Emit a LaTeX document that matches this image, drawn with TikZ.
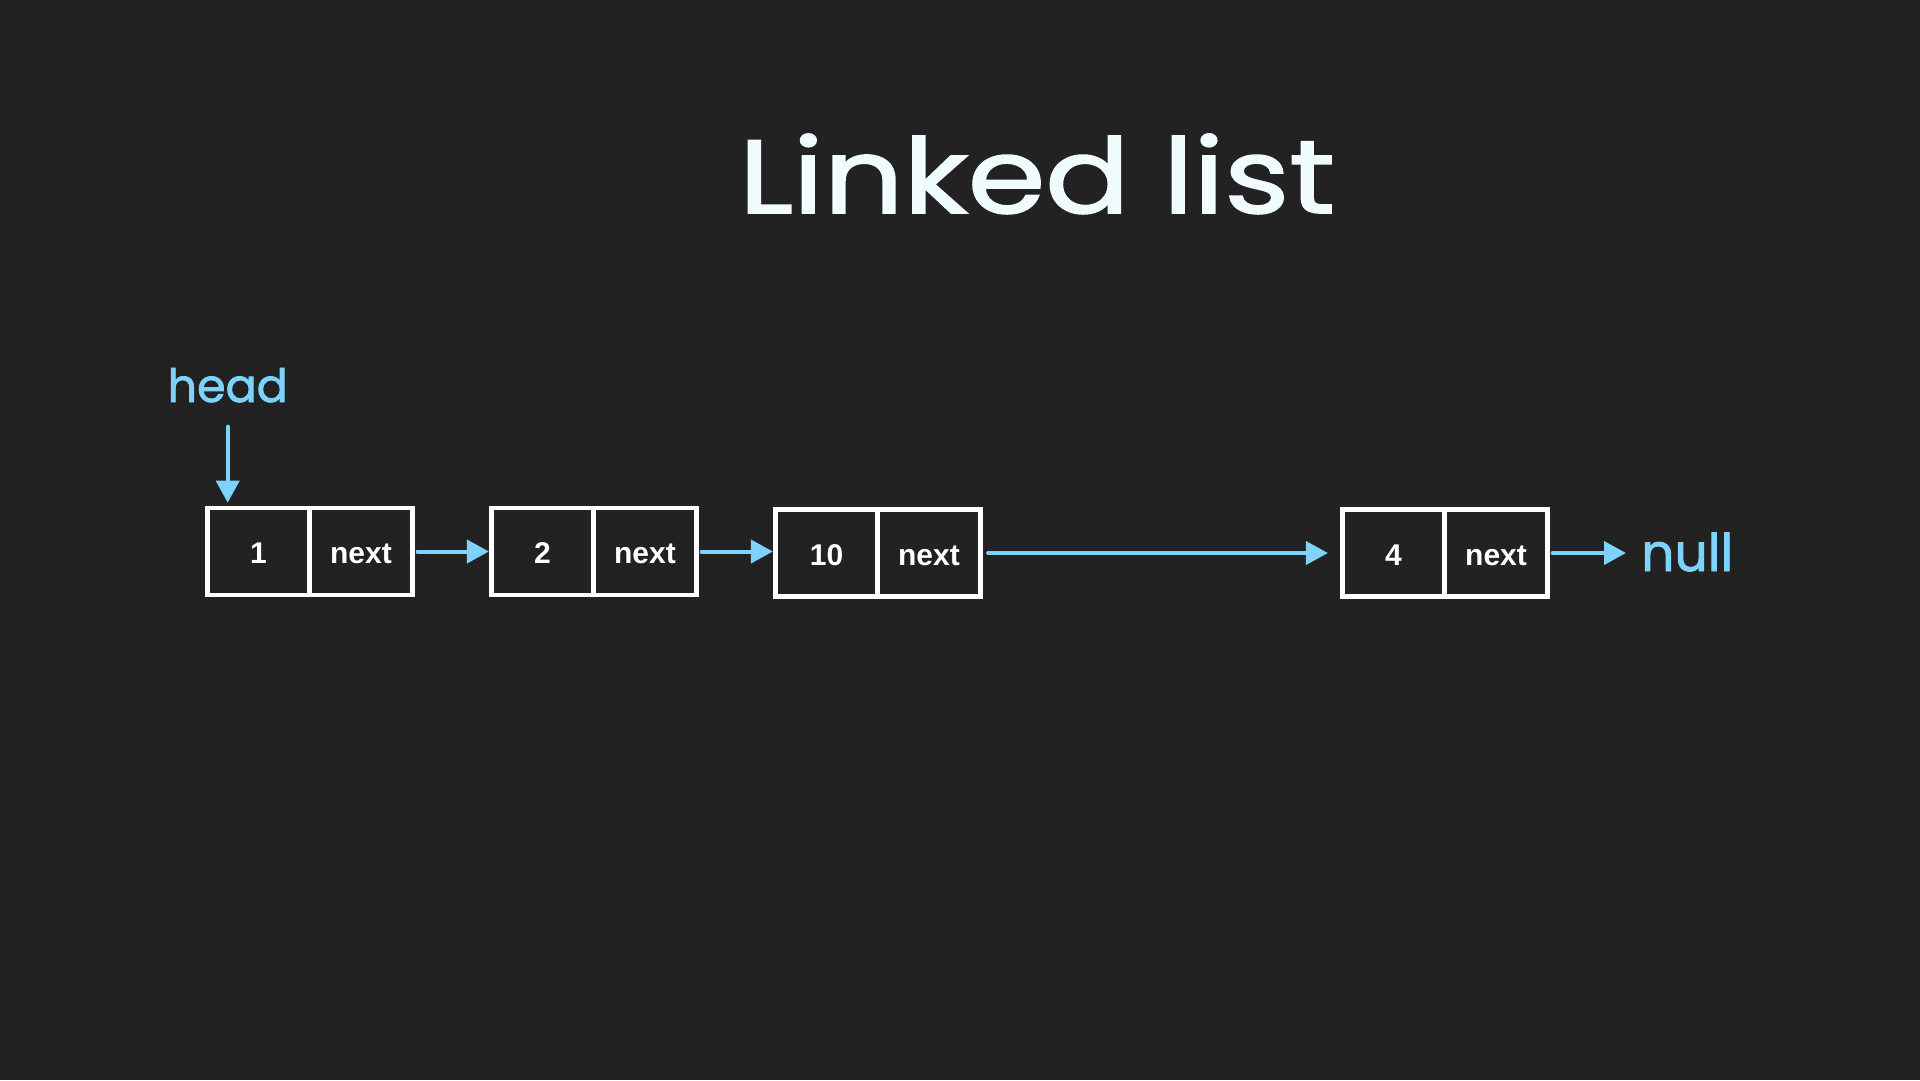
\documentclass[tikz,border=0pt]{standalone}
\usepackage{fontspec}
\setmainfont{Liberation Sans}
\newfontfamily\handfont{Poppins}[FakeBold=1.6]
\usetikzlibrary{arrows.meta}
\definecolor{bg}{RGB}{34,34,34}
\definecolor{sky}{RGB}{125,211,252}
\definecolor{chalk}{RGB}{240,252,253}
\begin{document}
\begin{tikzpicture}[x=1pt,y=-1pt,
  cell/.style={draw=white, line width=4.7pt, minimum width=102.5pt, minimum height=87pt,
    inner sep=0pt, text=white, text height=24pt, text depth=0pt,
    font=\bfseries\fontsize{30}{36}\selectfont},
  link/.style={draw=sky, line width=4pt, line cap=round,
    -{Triangle[length=22pt,width=23pt]}},
  hand/.style={inner sep=0pt, text=sky, font=\handfont\fontsize{52}{60}\selectfont}]
\fill[bg] (0,0) rectangle (1920,1080);
\useasboundingbox (0,0) rectangle (1920,1080);

\node[anchor=base, inner sep=0pt, text=chalk, xscale=1.2,
  font=\handfont\fontsize{104}{114}\selectfont] (title) at (1037,213) {Linked list};

\node[cell] (v1) at (258.5,551.5) {1};
\node[cell] (n1) at (361,551.5) {next};
\node[cell] (v2) at (542.5,551.5) {2};
\node[cell] (n2) at (645,551.5) {next};
\node[cell] (v3) at (826.5,553) {10};
\node[cell] (n3) at (929,553) {next};
\node[cell] (v4) at (1393.5,553) {4};
\node[cell] (n4) at (1496,553) {next};

\node[hand, anchor=base, font=\handfont\fontsize{46}{54}\selectfont] (head) at (227.7,402) {head};
\node[hand, anchor=base west] (null) at (1641,571) {null};

\draw[link, shorten <=24pt, shorten >=3pt] (head.south) -- (head |- v1.north);
\draw[link, shorten <=3pt] (n1.east) -- (v2.west);
\draw[link, shorten <=3pt] (n2.east) -- (n2.east -| v3.west);
\draw[link, shorten <=5.5pt, shorten >=12pt] (n3.east) -- (v4.west);
\draw[link, shorten <=3pt, shorten >=15pt] (n4.east) -- (n4.east -| null.west);
\end{tikzpicture}
\end{document}
